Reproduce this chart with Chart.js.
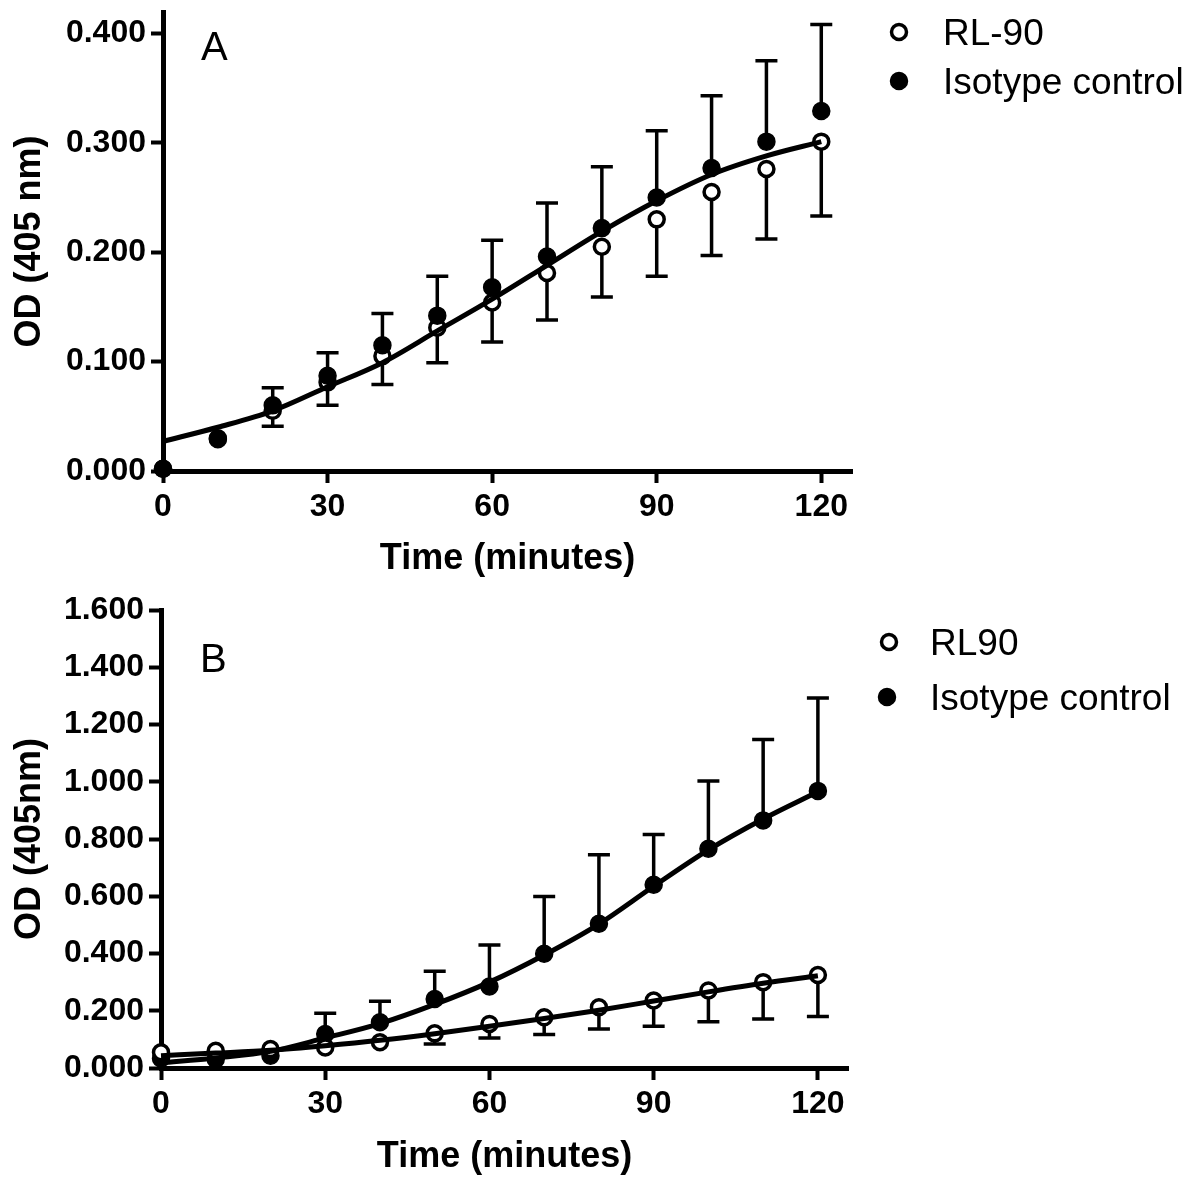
<!DOCTYPE html>
<html>
<head>
<meta charset="utf-8">
<script src="https://cdn.jsdelivr.net/npm/chart.js@4.4.1/dist/chart.umd.min.js"></script>
<style>
html, body { margin:0; padding:0; background:#fff; overflow:hidden; }
canvas { position:absolute; left:0; }
#chartA { top:0; }
#chartB { top:586px; }
</style>
</head>
<body>
<canvas id="chartA" width="1196" height="586"></canvas>
<canvas id="chartB" width="1196" height="594"></canvas>
<script>
const times = [0, 10, 20, 30, 40, 50, 60, 70, 80, 90, 100, 110, 120];
const xTicks = [0, 30, 60, 90, 120];

// panel A
const yTicksA = [0, 0.1, 0.2, 0.3, 0.4];
const rl90A = [0.002, 0.030, 0.055, 0.081, 0.105, 0.131, 0.154, 0.181, 0.205, 0.230, 0.255, 0.276, 0.301];
const isoA = [0.002, 0.029, 0.060, 0.087, 0.115, 0.142, 0.168, 0.196, 0.222, 0.250, 0.277, 0.301, 0.329];
const rl90LowA = [null, null, 0.041, 0.060, 0.079, 0.099, 0.118, 0.138, 0.159, 0.178, 0.197, 0.212, 0.233];
const isoHighA = [null, null, 0.076, 0.108, 0.144, 0.178, 0.211, 0.245, 0.278, 0.311, 0.343, 0.375, 0.408];
const fitA = [0.027, 0.040, 0.055, 0.077, 0.099, 0.128, 0.157, 0.188, 0.219, 0.247, 0.271, 0.288, 0.301];

// panel B
const yTicksB = [0, 0.2, 0.4, 0.6, 0.8, 1.0, 1.2, 1.4, 1.6];
const rl90B = [0.055, 0.060, 0.066, 0.072, 0.090, 0.121, 0.154, 0.177, 0.212, 0.236, 0.271, 0.300, 0.325];
const isoB = [0.033, 0.031, 0.043, 0.119, 0.160, 0.241, 0.285, 0.399, 0.504, 0.640, 0.766, 0.865, 0.968];
const rl90LowB = [null, null, null, null, null, 0.084, 0.105, 0.117, 0.136, 0.146, 0.162, 0.171, 0.180];
const isoHighB = [null, null, null, 0.191, 0.233, 0.338, 0.430, 0.599, 0.745, 0.816, 1.003, 1.148, 1.293];
const fitRl90B = [0.043, 0.052, 0.062, 0.078, 0.097, 0.120, 0.146, 0.173, 0.202, 0.234, 0.266, 0.296, 0.322];
const fitIsoB = [0.018, 0.035, 0.058, 0.105, 0.155, 0.222, 0.300, 0.395, 0.503, 0.635, 0.762, 0.870, 0.965];

const fam = "'Liberation Sans', Arial, Helvetica, sans-serif";

function pts(vals) {
    return times.map((t, i) => ({x: t, y: vals[i]}));
}

function pointSet(label, vals, filled, order) {
    return {
        label: label,
        data: pts(vals),
        showLine: false,
        order: order,
        clip: false,
        pointRadius: filled ? 8.5 : 7.5,
        pointHoverRadius: filled ? 8.5 : 7.5,
        pointBackgroundColor: filled ? "#000" : "#fff",
        pointBorderColor: "#000",
        pointBorderWidth: filled ? 1.5 : 3.5
    };
}

function curveSet(vals) {
    return {
        label: "fit",
        data: pts(vals),
        showLine: true,
        order: 0,
        clip: false,
        borderColor: "#000",
        borderWidth: 5,
        pointRadius: 0,
        pointHoverRadius: 0,
        tension: 0.4,
        cubicInterpolationMode: "monotone"
    };
}

function errorPlugin(bars) {
    return {
        id: "errorBars",
        beforeDatasetsDraw(chart) {
            const ctx = chart.ctx;
            const xs = chart.scales.x;
            const ys = chart.scales.y;
            ctx.save();
            ctx.strokeStyle = "#000";
            ctx.lineWidth = 3.5;
            bars.forEach(b => {
                times.forEach((t, i) => {
                    if (b.ends[i] == null) return;
                    const px = xs.getPixelForValue(t);
                    const y0 = ys.getPixelForValue(b.mean[i]);
                    const y1 = ys.getPixelForValue(b.ends[i]);
                    ctx.beginPath();
                    ctx.moveTo(px, y0);
                    ctx.lineTo(px, y1);
                    ctx.moveTo(px - 11, y1);
                    ctx.lineTo(px + 11, y1);
                    ctx.stroke();
                });
            });
            ctx.restore();
        }
    };
}

function sidePlugin(p) {
    return {
        id: "sideLegend",
        afterDraw(chart) {
            const ctx = chart.ctx;
            ctx.save();
            ctx.fillStyle = "#000";
            ctx.font = "40px " + fam;
            ctx.textBaseline = "alphabetic";
            ctx.fillText(p.letter, p.letterX, p.letterY);
            ctx.font = "37px " + fam;
            p.items.forEach(it => {
                const ds = chart.data.datasets[it.ds];
                ctx.beginPath();
                ctx.arc(it.mx, it.my, ds.pointRadius, 0, Math.PI * 2);
                ctx.fillStyle = ds.pointBackgroundColor;
                ctx.fill();
                ctx.lineWidth = ds.pointBorderWidth;
                ctx.strokeStyle = "#000";
                ctx.stroke();
                ctx.fillStyle = "#000";
                ctx.fillText(ds.label, it.tx, it.ty);
            });
            ctx.restore();
        }
    };
}

function makePanel(id, p) {
    const canvas = document.getElementById(id);
    return new Chart(canvas, {
        type: "scatter",
        data: { datasets: p.datasets },
        options: {
            responsive: false,
            animation: false,
            devicePixelRatio: 1,
            events: [],
            layout: {
                padding: {
                    left: 0,
                    top: p.top,
                    right: canvas.width - p.right,
                    bottom: canvas.height - p.bottom - p.xH
                }
            },
            plugins: {
                legend: { display: false },
                tooltip: { enabled: false }
            },
            scales: {
                x: {
                    type: "linear",
                    min: 0,
                    max: p.xMax,
                    afterBuildTicks: s => { s.ticks = xTicks.map(v => ({value: v})); },
                    afterFit: s => { s.height = p.xH; s.paddingLeft = 0; s.paddingRight = 0; },
                    grid: { drawOnChartArea: false, tickLength: 12, tickWidth: 4, tickColor: "#000" },
                    border: { color: "#000", width: 5 },
                    ticks: {
                        color: "#000",
                        autoSkip: false,
                        maxRotation: 0,
                        padding: 5,
                        font: { family: fam, size: 32, weight: "bold" },
                        callback: v => String(v)
                    },
                    title: {
                        display: true,
                        text: "Time (minutes)",
                        color: "#000",
                        padding: { top: 0, bottom: 0 },
                        font: { family: fam, size: 36, weight: "bold" }
                    }
                },
                y: {
                    type: "linear",
                    min: 0,
                    max: p.yMax,
                    afterBuildTicks: s => { s.ticks = p.yTicks.map(v => ({value: v})); },
                    afterFit: s => { s.width = p.left; s.paddingTop = 0; s.paddingBottom = 0; },
                    grid: { drawOnChartArea: false, tickLength: 12, tickWidth: 4, tickColor: "#000" },
                    border: { color: "#000", width: 5 },
                    ticks: {
                        color: "#000",
                        autoSkip: false,
                        padding: 5,
                        font: { family: fam, size: 32, weight: "bold" },
                        callback: v => Number(v).toFixed(3)
                    },
                    title: {
                        display: true,
                        text: p.yTitle,
                        color: "#000",
                        padding: { top: 8, bottom: 0 },
                        font: { family: fam, size: 36, weight: "bold" }
                    }
                }
            }
        },
        plugins: [errorPlugin(p.bars), sidePlugin(p.side)]
    });
}

makePanel("chartA", {
    left: 163, right: 852, top: 12, bottom: 471, xH: 110,
    xMax: 125.6, yMax: 0.4195, yTicks: yTicksA,
    yTitle: "OD (405 nm)",
    datasets: [
        curveSet(fitA),
        pointSet("Isotype control", isoA, true, 1),
        pointSet("RL-90", rl90A, false, 2)
    ],
    bars: [
        { mean: isoA, ends: isoHighA },
        { mean: rl90A, ends: rl90LowA }
    ],
    side: {
        letter: "A", letterX: 201, letterY: 60,
        items: [
            { ds: 2, mx: 899, my: 32, tx: 943, ty: 45 },
            { ds: 1, mx: 899, my: 81, tx: 943, ty: 94 }
        ]
    }
});

makePanel("chartB", {
    left: 161, right: 848, top: 24, bottom: 482, xH: 111,
    xMax: 125.5, yMax: 1.6, yTicks: yTicksB,
    yTitle: "OD (405nm)",
    datasets: [
        curveSet(fitIsoB),
        curveSet(fitRl90B),
        pointSet("RL90", rl90B, false, 1),
        pointSet("Isotype control", isoB, true, 2)
    ],
    bars: [
        { mean: isoB, ends: isoHighB },
        { mean: rl90B, ends: rl90LowB }
    ],
    side: {
        letter: "B", letterX: 200, letterY: 86,
        items: [
            { ds: 2, mx: 889, my: 56, tx: 930, ty: 69 },
            { ds: 3, mx: 887, my: 111, tx: 930, ty: 124 }
        ]
    }
});
</script>
</body>
</html>
